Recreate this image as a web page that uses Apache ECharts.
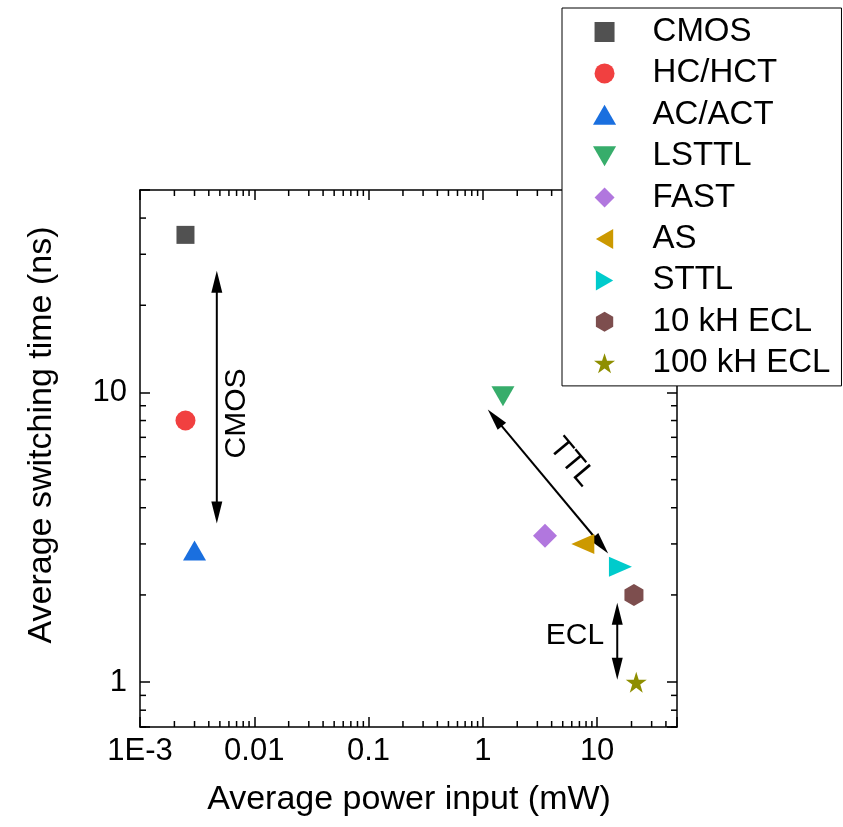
<!DOCTYPE html>
<html><head><meta charset="utf-8">
<script src="https://cdn.jsdelivr.net/npm/echarts@6/dist/echarts.min.js"></script>
<style>html,body{margin:0;padding:0;background:#fff}#c{width:843px;height:827px}</style>
</head><body><div id="c"></div><script>
// ---- data ----
const seriesNames = ['CMOS','HC/HCT','AC/ACT','LSTTL','FAST','AS','STTL','10 kH ECL','100 kH ECL'];
const powerValues = [0.0025, 0.0025, 0.003, 1.5, 3.5, 7.5, 16, 21, 22];
const timeValues  = [35, 8, 2.85, 9.7, 3.2, 3.0, 2.5, 2.0, 1.0];
const xTickValues = [0.001, 0.01, 0.1, 1, 10];
const xTickLabels = ['1E-3', '0.01', '0.1', '1', '10'];
const yTickValues = [1, 10];
const yTickLabels = ['1', '10'];
// arrows: [x1, y1, x2, y2] in data units
const arrowCMOS = [0.0047, 26.3, 0.0047, 3.53];
const arrowTTL  = [1.105, 8.74, 12.5, 2.78];
const arrowECL  = [15, 1.88, 15, 1.02];
// annotation labels
const annotTexts = ['CMOS', 'TTL', 'ECL'];
const annotX = [0.00703, 6.0, 6.4];
const annotY = [8.46, 5.74, 1.45];

// ---- styles ----
const FONT = 'Liberation Sans, Arial, sans-serif';
const colors = ['#515151','#F14040','#1A6FDF','#37AD6B','#B177DE','#CC9900','#00CBCC','#7D4E4E','#8E8E00'];
const SQ = 'path://M-1,-1 L1,-1 L1,1 L-1,1 Z';
const DIA = 'path://M0,-1 L1,0 L0,1 L-1,0 Z';
const TRI_UP = 'path://M0,-0.866 L1,0.866 L-1,0.866 Z';
const TRI_DOWN = 'path://M-1,-0.866 L1,-0.866 L0,0.866 Z';
const TRI_LEFT = 'path://M-0.866,0 L0.866,-1 L0.866,1 Z';
const TRI_RIGHT = 'path://M0.866,0 L-0.866,-1 L-0.866,1 Z';
const HEX = 'path://M0,-1 L0.866,-0.5 L0.866,0.5 L0,1 L-0.866,0.5 L-0.866,-0.5 Z';
const STAR = 'path://M0,-1 L0.2245,-0.309 L0.951,-0.309 L0.363,0.118 L0.588,0.809 L0,0.382 L-0.588,0.809 L-0.363,0.118 L-0.951,-0.309 L-0.2245,-0.309 Z';
const symbols = ['rect','circle','triangle','triangle','diamond','triangle','triangle',HEX,STAR];
const rotations = [0,0,0,180,0,90,-90,0,0];
const sizes = [18,20,[23,20],[23,20],24,[20,23],[20,23],[19,22],21];
const legendIcons = [SQ,'circle',TRI_UP,TRI_DOWN,DIA,TRI_LEFT,TRI_RIGHT,HEX,STAR];
const annotRot = [Math.PI/2, -50*Math.PI/180, 0];

// minor tick positions on log axes
const minorX = [], minorY = [];
for (let d = -3; d <= 1; d++) for (let m = 2; m <= 9; m++) { const v = m*Math.pow(10,d); if (v > 0.001 && v < 50) minorX.push(v); }
for (let d = -1; d <= 1; d++) for (let m = 2; m <= 9; m++) { const v = m*Math.pow(10,d); if (v > 0.7 && v < 50) minorY.push(v); }

function fmt(vals, labels) {
  return function (v) {
    const i = vals.findIndex(t => Math.abs(Math.log10(t) - Math.log10(v)) < 1e-6);
    return i >= 0 ? labels[i] : '';
  };
}
const axLine = {show:true, onZero:false, lineStyle:{color:'#000', width:1.5}};
const axTick = {show:true, inside:true, length:10, lineStyle:{color:'#000', width:1.5}};
const axLabel = {color:'#000', fontSize:31, fontFamily:FONT};

const scatterSeries = seriesNames.map((n, i) => ({
  type:'scatter', name:n, xAxisIndex:0, yAxisIndex:0,
  data:[[powerValues[i], timeValues[i]]],
  symbol:symbols[i], symbolRotate:rotations[i], symbolSize:sizes[i],
  itemStyle:{color:colors[i], opacity:1}, z:5
}));

function arrowRender(params, api) {
  const p1 = api.coord([api.value(0), api.value(1)]);
  const p2 = api.coord([api.value(2), api.value(3)]);
  const dx = p2[0]-p1[0], dy = p2[1]-p1[1], L = Math.hypot(dx, dy);
  const ux = dx/L, uy = dy/L, nx = -uy, ny = ux;
  const hl = 22, hw = 5.5;
  const head = (tip, s) => {
    const bx = tip[0] + s*ux*hl, by = tip[1] + s*uy*hl;
    return {type:'polygon', shape:{points:[[tip[0],tip[1]],[bx+nx*hw,by+ny*hw],[bx-nx*hw,by-ny*hw]]}, style:{fill:'#000'}};
  };
  return {type:'group', children:[
    {type:'line', shape:{x1:p1[0]+ux*hl*0.8, y1:p1[1]+uy*hl*0.8, x2:p2[0]-ux*hl*0.8, y2:p2[1]-uy*hl*0.8}, style:{stroke:'#000', lineWidth:2}},
    head(p1, 1), head(p2, -1)
  ]};
}

const legendData = seriesNames.map((n, i) => ({name:n, icon:legendIcons[i], itemStyle:{color:colors[i]}}));

const option = {
  animation:false,
  backgroundColor:'#fff',
  grid:{left:140, top:190, right:166, bottom:100, containLabel:false},
  xAxis:[
    {type:'log', logBase:10, min:0.001, max:50, position:'bottom', axisLine:axLine, axisTick:axTick,
     axisLabel:Object.assign({margin:9, formatter:fmt(xTickValues, xTickLabels)}, axLabel), splitLine:{show:false}},
    {type:'log', logBase:10, min:0.001, max:50, position:'top', axisLine:axLine, axisTick:axTick,
     axisLabel:{show:false}, splitLine:{show:false}}
  ],
  yAxis:[
    {type:'log', logBase:10, min:0.7, max:50, position:'left', axisLine:axLine, axisTick:axTick,
     axisLabel:Object.assign({margin:13, formatter:fmt(yTickValues, yTickLabels)}, axLabel), splitLine:{show:false}},
    {type:'log', logBase:10, min:0.7, max:50, position:'right', axisLine:axLine, axisTick:axTick,
     axisLabel:{show:false}, splitLine:{show:false}}
  ],
  legend:{
    data:legendData, orient:'vertical', left:562, top:8, itemWidth:24, itemHeight:20, itemGap:0,
    symbolKeepAspect:true,
    padding:[3.3, 11, 2, 31], borderColor:'#000', borderWidth:1, backgroundColor:'#fff', selectedMode:false,
    textStyle:{fontSize:33, lineHeight:41.4, color:'#000', fontFamily:FONT, padding:[0,0,0,31]}, z:10
  },
  graphic:[
    {type:'text', x:409, y:800, style:{text:'Average power input (mW)', font:'34px ' + FONT, fill:'#000', align:'center', verticalAlign:'middle'}},
    {type:'text', x:42, y:435, rotation:Math.PI/2, style:{text:'Average switching time (ns)', font:'34px ' + FONT, fill:'#000', align:'center', verticalAlign:'middle'}}
  ],
  series:[
    ...scatterSeries,
    {type:'custom', name:'arrows', xAxisIndex:0, yAxisIndex:0, encode:{x:[0,2], y:[1,3]},
     data:[arrowCMOS, arrowTTL, arrowECL], renderItem:arrowRender, z:4, silent:true},
    {type:'custom', name:'annot', xAxisIndex:0, yAxisIndex:0,
     data:annotTexts.map((t, i) => [annotX[i], annotY[i], i]),
     renderItem:(params, api) => {
       const p = api.coord([api.value(0), api.value(1)]);
       const i = api.value(2);
       return {type:'text', x:p[0], y:p[1], rotation:annotRot[i],
               style:{text:annotTexts[i], font:'30px ' + FONT, fill:'#000', align:'center', verticalAlign:'middle'}};
     }, z:4, silent:true},
    {type:'custom', name:'minorX', xAxisIndex:0, yAxisIndex:0, data:minorX.map(v => [v, 1]), silent:true, clip:false,
     renderItem:(params, api) => {
       const cs = params.coordSys; const px = api.coord([api.value(0), 1])[0];
       const st = {stroke:'#000', lineWidth:1.5};
       return {type:'group', children:[
         {type:'line', shape:{x1:px, y1:cs.y+cs.height, x2:px, y2:cs.y+cs.height-6}, style:st},
         {type:'line', shape:{x1:px, y1:cs.y, x2:px, y2:cs.y+6}, style:st}
       ]};
     }},
    {type:'custom', name:'minorY', xAxisIndex:0, yAxisIndex:0, data:minorY.map(v => [1, v]), silent:true, clip:false,
     renderItem:(params, api) => {
       const cs = params.coordSys; const py = api.coord([1, api.value(1)])[1];
       const st = {stroke:'#000', lineWidth:1.5};
       return {type:'group', children:[
         {type:'line', shape:{x1:cs.x, y1:py, x2:cs.x+6, y2:py}, style:st},
         {type:'line', shape:{x1:cs.x+cs.width, y1:py, x2:cs.x+cs.width-6, y2:py}, style:st}
       ]};
     }}
  ]
};
const chart = echarts.init(document.getElementById('c'), null, {renderer:'canvas'});
chart.setOption(option);
</script></body></html>
